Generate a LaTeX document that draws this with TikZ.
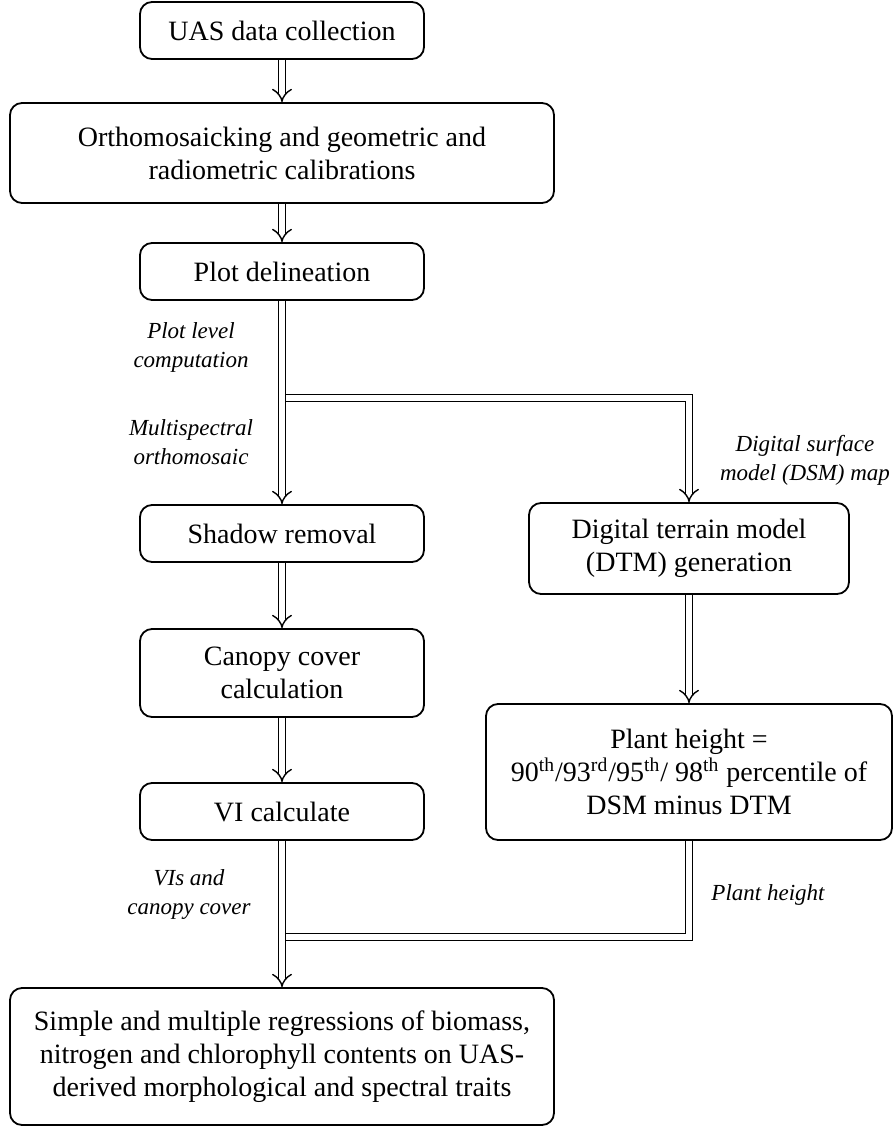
\documentclass[tikz,border=0pt]{standalone}
\usepackage{fontspec}
\setmainfont{Liberation Serif}
\usetikzlibrary{arrows.meta,positioning}
\tikzstyle{stage} = [rectangle, rounded corners=6pt, draw, line width=0.9pt, align=center, minimum width=142pt, minimum height=28.5pt, font=\fontsize{14}{16.5}\selectfont]
\tikzstyle{flow} = [double, double distance=2.8pt, line width=0.7pt, -{Implies[scale=1.4]}]
\tikzstyle{link} = [double, double distance=2.8pt, line width=0.7pt]
\tikzstyle{note} = [align=center, font=\fontsize{11.5}{14.5}\selectfont\itshape]

\begin{document}
\begin{tikzpicture}[x=0.5pt, y=-0.5pt]
\useasboundingbox (0,0) rectangle (895,1127);
% left column
\node (uas) [stage] at (282,30.5) {UAS data collection};
\node (ortho) [stage, below of=uas, node distance=61.25pt, minimum width=272pt, minimum height=50pt] {Orthomosaicking and geometric and\\radiometric calibrations};
\node (plot) [stage, below of=ortho, node distance=59.25pt] {Plot delineation};
\node (shadow) [stage, below of=plot, node distance=131pt] {Shadow removal};
\node (canopy) [stage, below of=shadow, node distance=69.75pt, minimum height=44pt] {Canopy cover\\calculation};
\node (vi) [stage, below of=canopy, node distance=69.25pt] {VI calculate};
\node (final) [stage, below of=vi, node distance=122.5pt, minimum width=272pt, minimum height=68.5pt] {Simple and multiple regressions of biomass,\\nitrogen and chlorophyll contents on UAS-\\derived morphological and spectral traits};
% right column
\node (dtm) [stage, minimum width=160pt, minimum height=45.5pt] at (689,548.5) {Digital terrain model\\(DTM) generation};
\node (plant) [stage, below of=dtm, node distance=111.75pt, minimum width=203pt, minimum height=68pt] {Plant height =\\90\textsuperscript{th}/93\textsuperscript{rd}/95\textsuperscript{th}/ 98\textsuperscript{th} percentile of\\DSM minus DTM};

% labels
\node (plotlvl) [note] at (191,347) {Plot level\\computation};
\node (msortho) [note] at (191,442) {Multispectral\\orthomosaic};
\node (dsmmap) [note] at (805,460) {Digital surface\\model (DSM) map};
\node (vicover) [note] at (189,894) {VIs and\\canopy cover};
\node (phlbl) [note] at (768,895) {Plant height};

% arrows
\coordinate (split) at (282,398);
\coordinate (join) at (282,937);
\draw[flow] (uas) -- (ortho);
\draw[flow] (ortho) -- (plot);
\draw[flow] (split) -| (dtm);
\draw[flow] (plot) -- (shadow);
\draw[flow] (shadow) -- (canopy);
\draw[flow] (canopy) -- (vi);
\draw[flow] (dtm) -- (plant);
\draw[link] (plant) |- (join);
\draw[flow] (vi) -- (final);
\end{tikzpicture}
\end{document}
